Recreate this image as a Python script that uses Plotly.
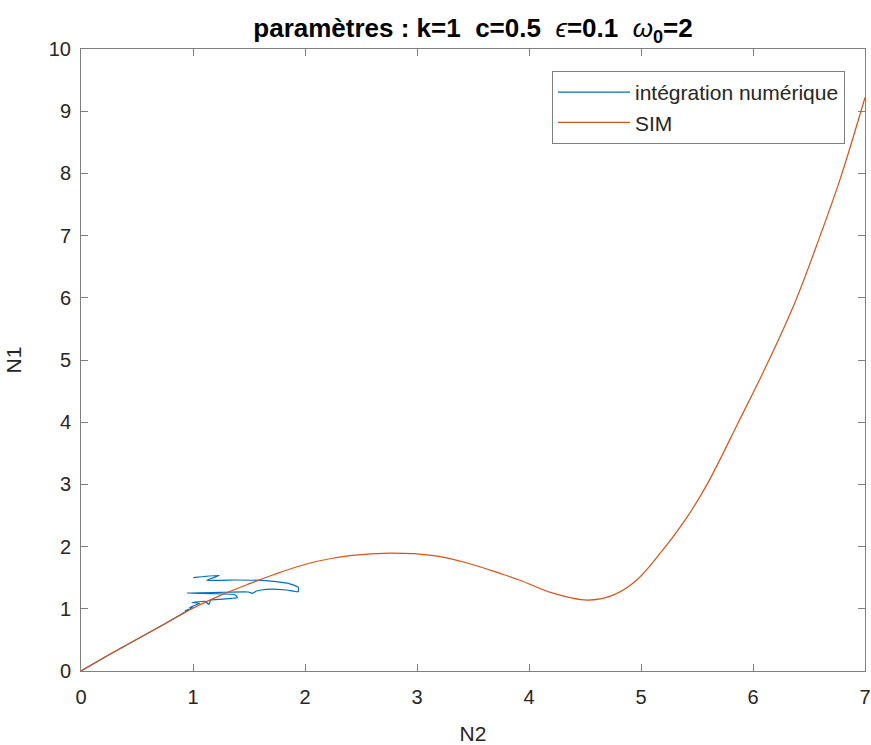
import plotly.graph_objects as go

# SIM curve
sim_n2 = [0, 0.25, 0.5, 0.75, 1.0, 1.25, 1.5, 1.8, 2.1, 2.4, 2.76, 3.15, 3.44, 3.74, 3.92,
          4.2, 4.52, 4.75, 4.96, 5.17, 5.41, 5.59, 5.87, 6.13, 6.38, 6.6, 6.78, 7.0]
sim_n1 = [0, 0.26, 0.51, 0.76, 1.01, 1.22, 1.40, 1.60, 1.76, 1.855, 1.895, 1.855, 1.74, 1.57, 1.46,
          1.26, 1.14, 1.22, 1.46, 1.89, 2.47, 3.0, 4.0, 4.95, 5.95, 7.0, 7.92, 9.22]

# numerical integration trajectory
num_n2 = [1.003, 1.235, 1.122, 1.39, 1.658, 1.851, 1.94, 1.94, 1.836, 1.658, 1.568, 1.533, 1.494,
          1.241, 0.943, 1.182, 1.375, 1.396, 1.345, 1.241, 1.16, 1.14, 1.11, 0.99, 1.06, 0.97,
          1.0, 0.93, 0.96, 0.91, 0.75, 0.5, 0.25, 0.0]
num_n1 = [1.500, 1.538, 1.458, 1.463, 1.452, 1.410, 1.346, 1.275, 1.302, 1.313, 1.286, 1.249, 1.270,
          1.265, 1.254, 1.243, 1.227, 1.179, 1.168, 1.152, 1.14, 1.07, 1.12, 1.10, 1.09, 1.02,
          1.02, 0.97, 0.98, 0.93, 0.76, 0.51, 0.26, 0.0]

x_ticks = [0, 1, 2, 3, 4, 5, 6, 7]
y_ticks = [0, 1, 2, 3, 4, 5, 6, 7, 8, 9, 10]

FONT = "Liberation Sans, Arial"

fig = go.Figure()
fig.add_trace(go.Scatter(x=num_n2, y=num_n1, mode="lines", name="intégration numérique",
                         line=dict(color="#0072BD", width=1.2, shape="spline", smoothing=0.4)))
fig.add_trace(go.Scatter(x=sim_n2, y=sim_n1, mode="lines", name="SIM",
                         line=dict(color="#D95319", width=1.2, shape="spline", smoothing=1.0)))

axis_common = dict(showline=True, mirror="ticks", linecolor="#808080", linewidth=1,
                   ticks="inside", ticklen=7, tickcolor="#808080", showgrid=False, zeroline=False,
                   automargin=False,
                   tickfont=dict(family=FONT, size=20, color="#262626"))

sp = "\u00a0\u00a0"
title_text = (f"<b>paramètres : k=1{sp}c=0.5{sp}</b><i>ϵ</i><b>=0.1{sp}</b>"
              f"<i>ω</i><b><sub>0</sub>=2</b>")

fig.update_layout(
    width=871, height=745,
    margin=dict(l=81, r=6, t=49, b=74, autoexpand=False),
    paper_bgcolor="white", plot_bgcolor="white",
    title=dict(text=title_text, xref="paper",
               x=0.5, xanchor="center", y=1 - 28 / 745, yanchor="middle",
               font=dict(family=FONT, size=26, color="black")),
    xaxis=dict(range=[0, 7], tickvals=x_ticks, ticktext=[str(v) for v in x_ticks],
               ticklabelstandoff=8,
               title=dict(text="N2", font=dict(family=FONT, size=21, color="#262626"), standoff=20),
               **axis_common),
    yaxis=dict(range=[0, 10], tickvals=y_ticks, ticktext=[str(v) for v in y_ticks],
               ticklabelstandoff=5,
               title=dict(text="N1", font=dict(family=FONT, size=21, color="#262626"), standoff=21),
               **axis_common),
    legend=dict(x=0.9745, y=0.9646, xanchor="right", yanchor="top",
                bgcolor="white", bordercolor="#808080", borderwidth=1,
                font=dict(family=FONT, size=21, color="#262626"),
                tracegroupgap=0, itemwidth=72),
    showlegend=True,
)

fig.write_html("out.html", config={"displayModeBar": False},
               post_script="document.body.style.margin='0';document.body.style.overflow='hidden';")
